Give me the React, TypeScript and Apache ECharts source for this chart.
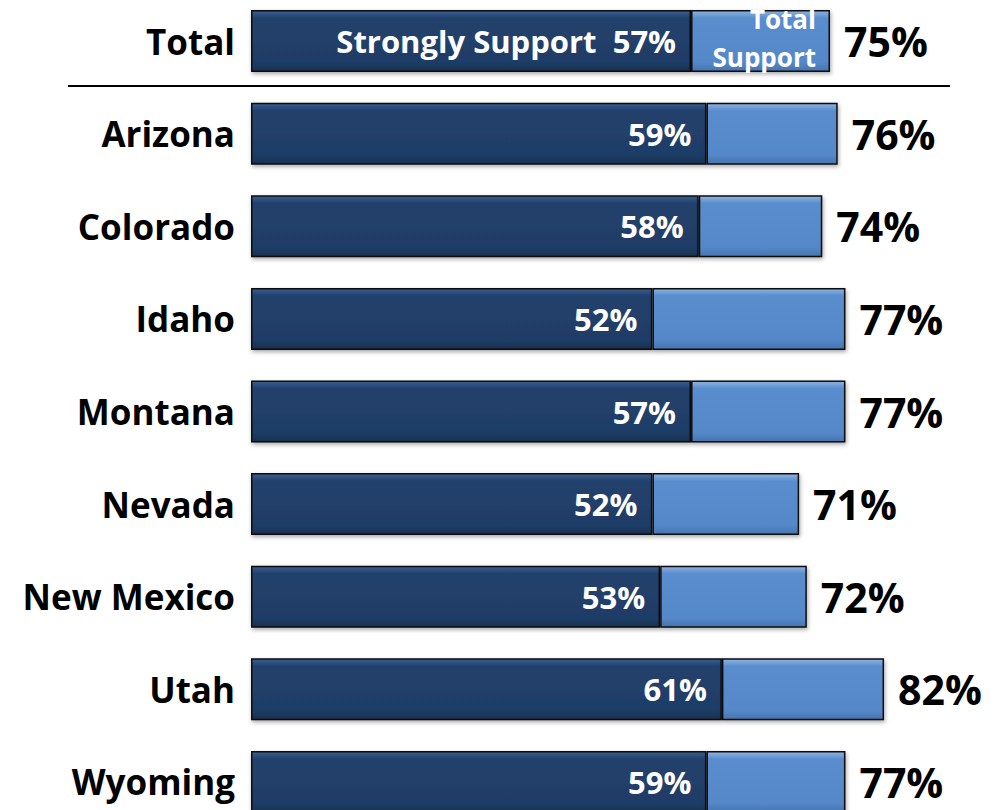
import React, { useEffect, useRef } from "react";
import * as echarts from "echarts";

const categories = ["Total", "Arizona", "Colorado", "Idaho", "Montana", "Nevada", "New Mexico", "Utah", "Wyoming"];
const stronglySupport = [57, 59, 58, 52, 57, 52, 53, 61, 59];
const totalSupport = [75, 76, 74, 77, 77, 71, 72, 82, 77];

const FONT = "Open Sans";

export default function App() {
  const ref = useRef<HTMLDivElement>(null);
  useEffect(() => {
    document.body.style.margin = "0";
    const chart = echarts.init(ref.current!, null, { renderer: "svg" });
    const darkFill = new echarts.graphic.LinearGradient(0, 0, 0, 1, [
      { offset: 0, color: "#3A5F93" },
      { offset: 0.12, color: "#21416C" },
      { offset: 0.85, color: "#1F3D66" },
      { offset: 1, color: "#18304F" },
    ]);
    const lightFill = new echarts.graphic.LinearGradient(0, 0, 0, 1, [
      { offset: 0, color: "#8DB4E4" },
      { offset: 0.12, color: "#5A8DCD" },
      { offset: 0.85, color: "#5588C9" },
      { offset: 1, color: "#4675AE" },
    ]);
    const remainder = totalSupport.map((t, i) => t - stronglySupport[i]);
    chart.setOption({
      animation: false,
      grid: { left: 251, right: 13.6, top: 4.7, height: 833.6, containLabel: false },
      xAxis: { type: "value", min: 0, max: 95, show: false },
      yAxis: {
        type: "category",
        inverse: true,
        data: categories,
        axisLine: { show: false },
        axisTick: { show: false },
        axisLabel: {
          margin: 16,
          color: "#000",
          fontFamily: FONT,
          fontWeight: "bold",
          fontSize: 35,
          padding: [0, 0, 4, 0],
        },
      },
      series: [
        {
          type: "bar",
          stack: "s",
          barWidth: 62,
          data: stronglySupport.map((v, i) =>
            i === 0
              ? { value: v, label: { formatter: "Strongly Support  {c}%" } }
              : v
          ),
          itemStyle: {
            color: darkFill,
            borderColor: "#0d0d0d",
            borderWidth: 1.5,
            shadowColor: "rgba(0,0,0,0.35)",
            shadowBlur: 4,
            shadowOffsetX: 1,
            shadowOffsetY: 2,
          },
          label: {
            show: true,
            position: "insideRight",
            distance: 15,
            formatter: "{c}%",
            color: "#fff",
            fontFamily: FONT,
            fontWeight: "bold",
            fontSize: 31,
          },
        },
        {
          type: "bar",
          stack: "s",
          barWidth: 62,
          data: remainder,
          itemStyle: {
            color: lightFill,
            borderColor: "#0d0d0d",
            borderWidth: 1.5,
            shadowColor: "rgba(0,0,0,0.35)",
            shadowBlur: 4,
            shadowOffsetX: 1,
            shadowOffsetY: 2,
          },
          label: {
            show: true,
            position: "right",
            distance: 14,
            formatter: (p: any) => totalSupport[p.dataIndex] + "%",
            color: "#000",
            fontFamily: FONT,
            fontWeight: "bold",
            fontSize: 41,
          },
        },
        {
          type: "bar",
          stack: "t",
          barWidth: 62,
          barGap: "-100%",
          silent: true,
          z: 5,
          data: totalSupport.map((v, i) => (i === 0 ? v : "-")),
          itemStyle: { color: "rgba(0,0,0,0)" },
          label: {
            show: true,
            position: "insideRight",
            distance: 14,
            offset: [0, -3],
            formatter: "Total\nSupport",
            color: "#fff",
            fontFamily: FONT,
            fontWeight: "bold",
            fontSize: 26,
            lineHeight: 38,
            align: "right",
          },
        },
      ],
      graphic: [
        {
          type: "line",
          shape: { x1: 68, y1: 96, x2: 950, y2: 96 },
          style: { stroke: "#000", lineWidth: 2 },
        },
      ],
    });
    return () => chart.dispose();
  }, []);
  return (
    <div style={{ width: 998, height: 810, overflow: "hidden", position: "relative" }}>
      <div ref={ref} style={{ width: 998, height: 860, position: "absolute", left: 0, top: -10 }} />
    </div>
  );
}
